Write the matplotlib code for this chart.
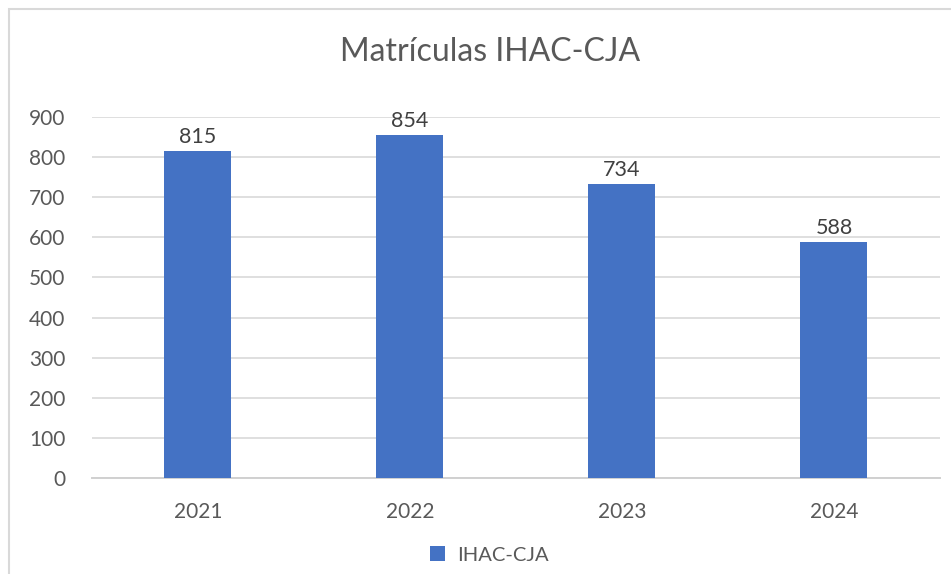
#matricula chart - IHAC-CJA

import matplotlib.pyplot as plt
from matplotlib.patches import Rectangle
import numpy as np

#data
years = ['2021', '2022', '2023', '2024']
matriculas = [815, 854, 734, 588]
y_ticks = [0, 100, 200, 300, 400, 500, 600, 700, 800, 900]
series_name = 'IHAC-CJA'

bar_color = '#4472C4'
text_color = '#595959'

plt.rcParams['font.family'] = ['Lato', 'DejaVu Sans']

fig = plt.figure(figsize=(9.51, 5.74), dpi=100)
ax = fig.add_axes([0.0967, 0.1672, 0.8917, 0.629])

x = np.arange(len(years))
bars = ax.bar(x, matriculas, width=0.316, color=bar_color, label=series_name, zorder=3)

#value labels above bars
for xi, v in zip(x, matriculas):
    ax.text(xi, v + 10, str(v), ha='center', va='bottom', fontsize=15.5, color='#404040')

ax.set_xlim(-0.5, len(years) - 0.5)
ax.set_ylim(0, 900)
ax.set_yticks(y_ticks)
ax.set_yticklabels([str(t) for t in y_ticks])
ax.set_xticks(x)
ax.set_xticklabels(years)
ax.tick_params(axis='both', length=0, labelsize=15, labelcolor=text_color)
ax.tick_params(axis='x', pad=17)
ax.tick_params(axis='y', pad=19)

ax.yaxis.grid(True, color='#d9d9d9', linewidth=1.2, zorder=0)
ax.set_axisbelow(True)
for side in ['top', 'right', 'left']:
    ax.spines[side].set_visible(False)
ax.spines['bottom'].set_color('#d0d0d0')
ax.spines['bottom'].set_linewidth(1.4)

#title and legend are centred on the whole chart box, which runs past the right edge
fig.text(0.515, 0.91, 'Matrículas IHAC-CJA', ha='center', va='center',
         fontsize=23, color=text_color)

fig.legend(loc='center', bbox_to_anchor=(0.515, 0.033), frameon=False,
           fontsize=14.5, labelcolor=text_color, handlelength=0.75, handleheight=0.75,
           handletextpad=0.6)

#outer chart border (only top and left visible in the reference)
fig.patches.append(Rectangle((9 / 951, -0.1), 1.2, 1 - 9 / 574 + 0.1,
                             transform=fig.transFigure, fill=False,
                             edgecolor='#d9d9d9', linewidth=1.5))

fig.savefig('out.png', dpi=100)
